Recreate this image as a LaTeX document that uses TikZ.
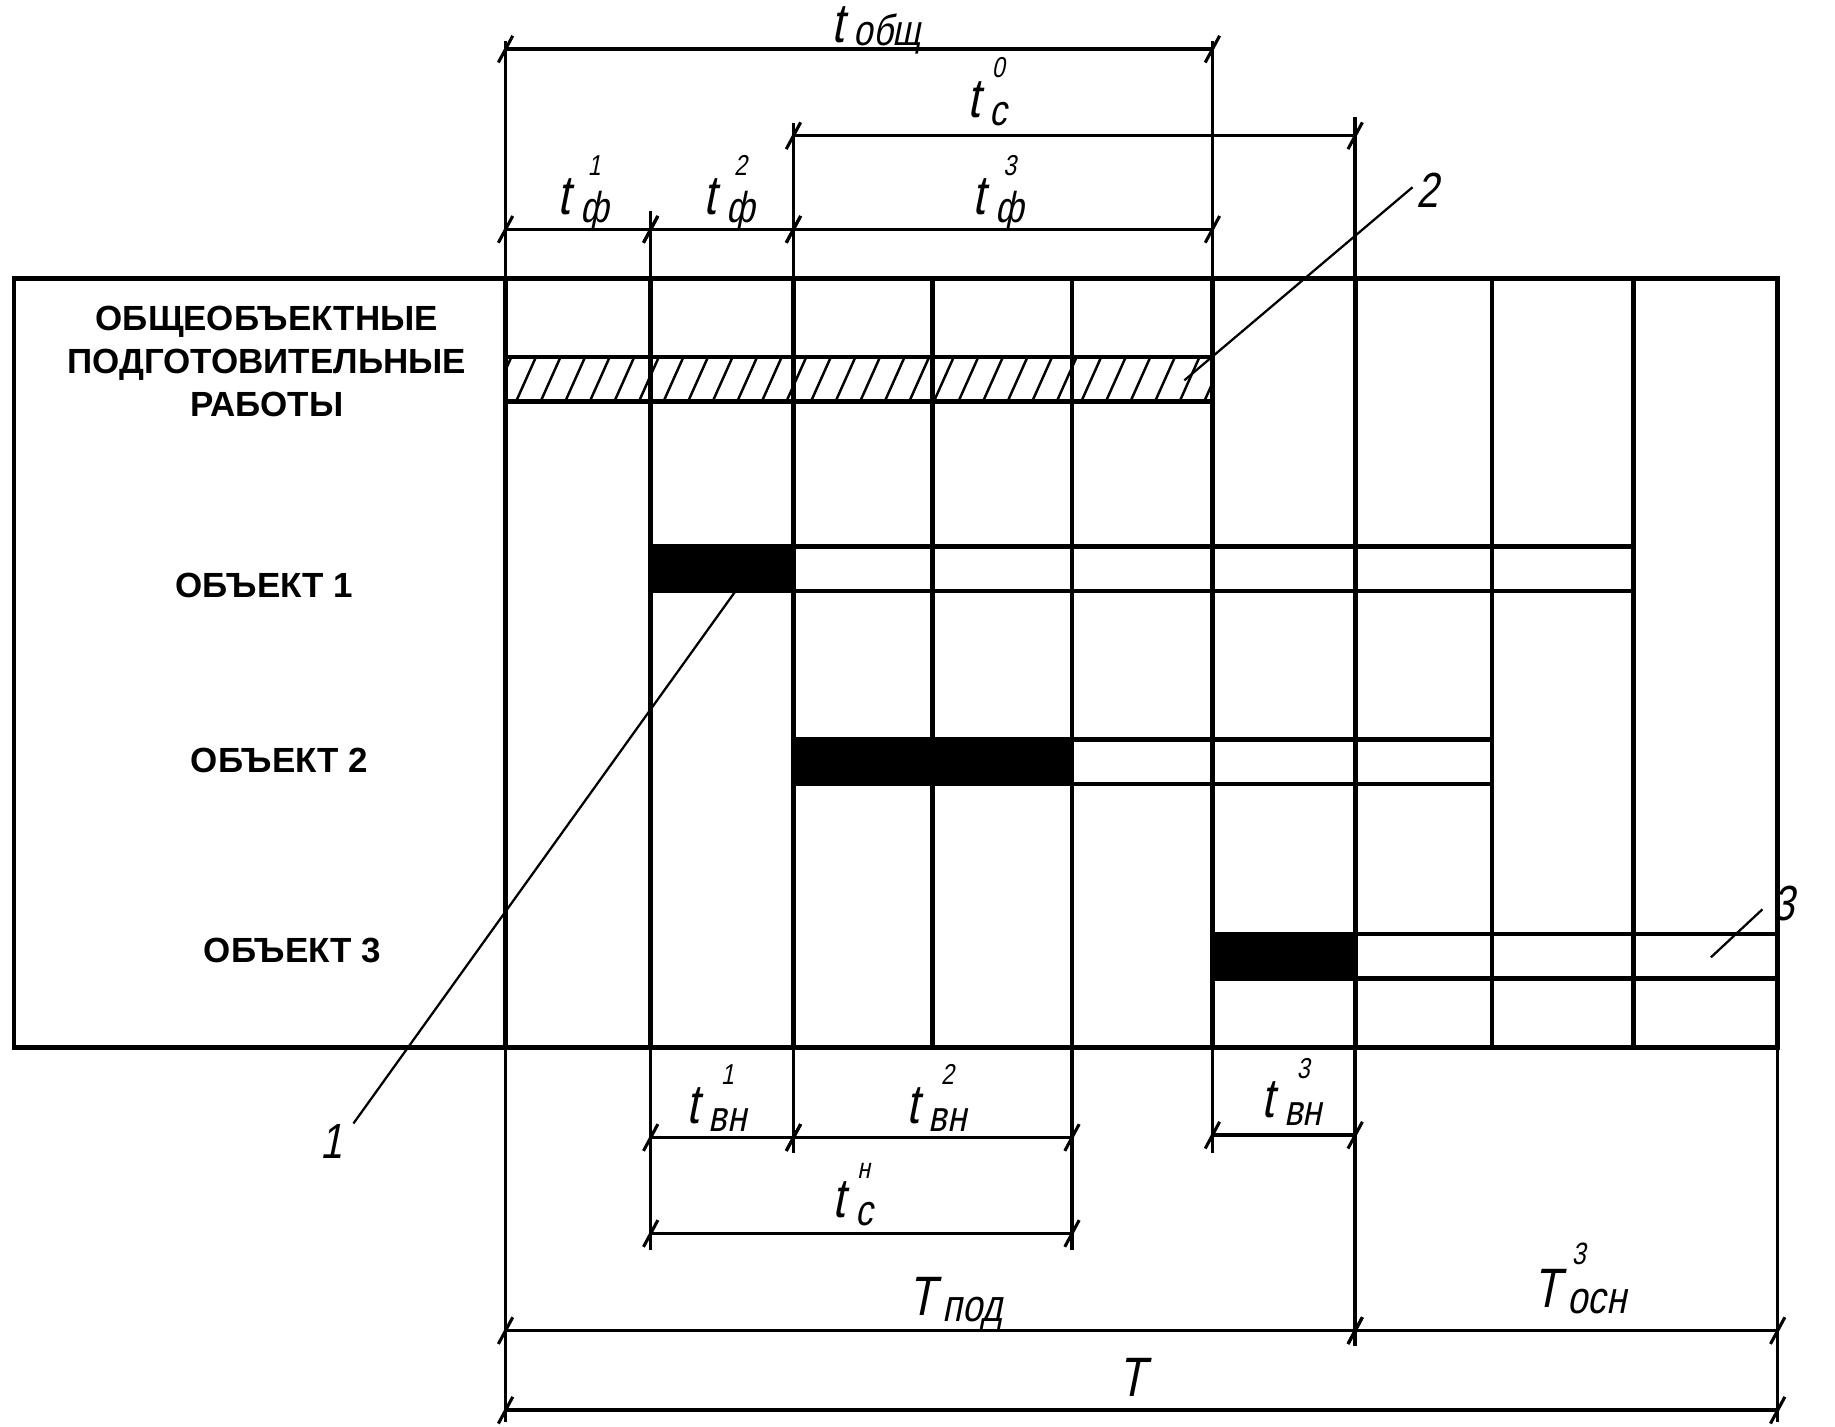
\documentclass[tikz,border=0pt]{standalone}
\usepackage{fontspec}
\setmainfont{Liberation Sans}
\newfontfamily\hand[FakeSlant=0.2,FakeStretch=0.8]{Liberation Sans}
\newfontfamily\boldsans{Liberation Sans}
\usetikzlibrary{decorations.markings}
\newcommand{\tlab}[3]{{\fontsize{27}{27}\selectfont #1}\kern5pt\raisebox{-4pt}{\fontsize{21}{21}\selectfont\setbox0\hbox{#2}\rlap{\hbox to \wd0{\hfil\raisebox{23pt}{\fontsize{14}{14}\selectfont #3}\hfil}}\box0}}
\newcommand{\Tlab}[3]{{\fontsize{27}{27}\selectfont #1}\kern3.5pt\raisebox{-3pt}{\fontsize{22}{22}\selectfont\setbox0\hbox{#2}\rlap{\hbox to \wd0{\raisebox{24pt}{\fontsize{15}{15}\selectfont\kern2pt #3}\hfil}}\box0}}
\def\Ca{432}\def\Cb{556}\def\Cc{678}\def\Cd{797}\def\Ce{916}
\def\Cf{1036}\def\Cg{1158}\def\Ch{1275}\def\Ci{1396}\def\Cj{1519}
\begin{document}
\begin{tikzpicture}[x=0.02cm,y=-0.02cm,
  heavy/.style={line width=2.3pt},
  ext/.style={line width=1.7pt},
  lead/.style={line width=1.1pt},
  hatchln/.style={line width=1.2pt},
  tickmark/.style={line width=1.5pt},
  dimln/.style={line width=1.7pt, postaction={decorate}, decoration={markings,
     mark=at position 0 with {\draw[tickmark] (-3.5pt,-6.5pt)--(3.5pt,6.5pt);},
     mark=at position 1 with {\draw[tickmark] (-3.5pt,-6.5pt)--(3.5pt,6.5pt);}}},
  obj/.style={font=\boldsans\bfseries\fontsize{17}{21}\selectfont, align=center, inner sep=0pt},
  lbl/.style={inner sep=0pt, font=\hand, anchor=base west},
  num/.style={inner sep=0pt, font=\hand\fontsize{24}{24}\selectfont},
]
\useasboundingbox (0,0) rectangle (1568,1219);

% hatched bar
\begin{scope}
  \clip (\Ca,305) rectangle (\Cf,343);
  \foreach \x in {420,441,...,1050} \draw[hatchln] (\x,343)--(\x+17,305);
\end{scope}
\draw[heavy] (\Ca,305)--(\Cf,305) (\Ca,343)--(\Cf,343);

% object bars
\fill (\Cb,467) rectangle (\Cc,505);
\draw[heavy] (\Cb,467)--(\Ci,467) (\Cb,505)--(\Ci,505);
\fill (\Cc,632) rectangle (\Ce,670);
\draw[heavy] (\Cc,632)--(\Ch,632) (\Cc,670)--(\Ch,670);
\fill (\Cf,798) rectangle (\Cg,836);
\draw[heavy] (\Cf,798)--(\Cj,798) (\Cf,836)--(\Cj,836);

% main frame and grid
\draw[heavy] (12,238) rectangle (\Cj,895);
\foreach \c in {\Ca,\Cb,\Cc,\Cd,\Ce,\Cf,\Cg,\Ch,\Ci}
  \draw[heavy] (\c,238)--(\c,895);

% extension lines
\draw[ext] (\Ca,35)--(\Ca,238) (\Ca,895)--(\Ca,1215);
\draw[ext] (\Cb,180)--(\Cb,238) (\Cb,895)--(\Cb,1068);
\draw[ext] (\Cc,105)--(\Cc,238) (\Cc,895)--(\Cc,985);
\draw[ext] (\Ce,895)--(\Ce,1068);
\draw[ext] (\Cf,35)--(\Cf,238) (\Cf,895)--(\Cf,985);
\draw[ext] (\Cg,100)--(\Cg,238) (\Cg,895)--(\Cg,1150);
\draw[ext] (\Cj,895)--(\Cj,1215);

% dimension lines
\draw[dimln] (\Ca,42)--(\Cf,42);
\draw[dimln] (\Cc,116)--(\Cg,116);
\draw[dimln] (\Ca,196)--(\Cb,196);
\draw[dimln] (\Cb,196)--(\Cc,196);
\draw[dimln] (\Cc,196)--(\Cf,196);
\draw[dimln] (\Cb,972)--(\Cc,972);
\draw[dimln] (\Cc,972)--(\Ce,972);
\draw[dimln] (\Cf,970)--(\Cg,970);
\draw[dimln] (\Cb,1054)--(\Ce,1054);
\draw[dimln] (\Ca,1137)--(\Cg,1137);
\draw[dimln] (\Cg,1137)--(\Cj,1137);
\draw[dimln] (\Ca,1205)--(\Cj,1205);

% dimension labels
\node[lbl] (tobsh) at (710,36) {{\fontsize{27}{27}\selectfont t}\kern5pt\raisebox{-1.5pt}{\fontsize{21}{21}\selectfont общ}};
\node[lbl] (tc0) at (826,100) {\tlab{t}{с}{0}};
\node[lbl] (tf1) at (476,183) {\tlab{t}{ф}{1}};
\node[lbl] (tf2) at (601,183) {\tlab{t}{ф}{2}};
\node[lbl] (tf3) at (831,183) {\tlab{t}{ф}{3}};
\node[lbl] (tv1) at (586,960) {\tlab{t}{вн}{1}};
\node[lbl] (tv2) at (774,960) {\tlab{t}{вн}{2}};
\node[lbl] (tcn) at (711,1040) {\tlab{t}{с}{н}};
\node[lbl] (tv3) at (1078,955) {\tlab{t}{вн}{3}};
\node[lbl] (Tpod) at (776,1124) {\Tlab{T}{под}{}};
\node[lbl] (Tosn) at (1310,1117) {\Tlab{T}{осн}{3}};
\node[lbl] (Ttot) at (955,1193) {{\fontsize{27}{27}\selectfont T}};

% row labels
\node[obj] (prep) at (228,309) {ОБЩЕОБЪЕКТНЫЕ\\ПОДГОТОВИТЕЛЬНЫЕ\\РАБОТЫ};
\node[obj] (o1) at (226,500) {ОБЪЕКТ 1};
\node[obj] (o2) at (239,650) {ОБЪЕКТ 2};
\node[obj] (o3) at (250,812) {ОБЪЕКТ 3};

% leaders
\node[num] (n1) at (283,975) {1};
\node[num] (n2) at (1220,163) {2};
\node[num] (n3) at (1524,772) {3};
\coordinate (l1a) at (302,960);
\coordinate (l1b) at (630,503);
\coordinate (l2a) at (1012,325);
\coordinate (l2b) at (1207,160);
\coordinate (l3a) at (1462,818);
\coordinate (l3b) at (1506,777);
\draw[lead] (l1a)--(l1b);
\draw[lead] (l2a)--(l2b);
\draw[lead] (l3a)--(l3b);
\end{tikzpicture}
\end{document}
